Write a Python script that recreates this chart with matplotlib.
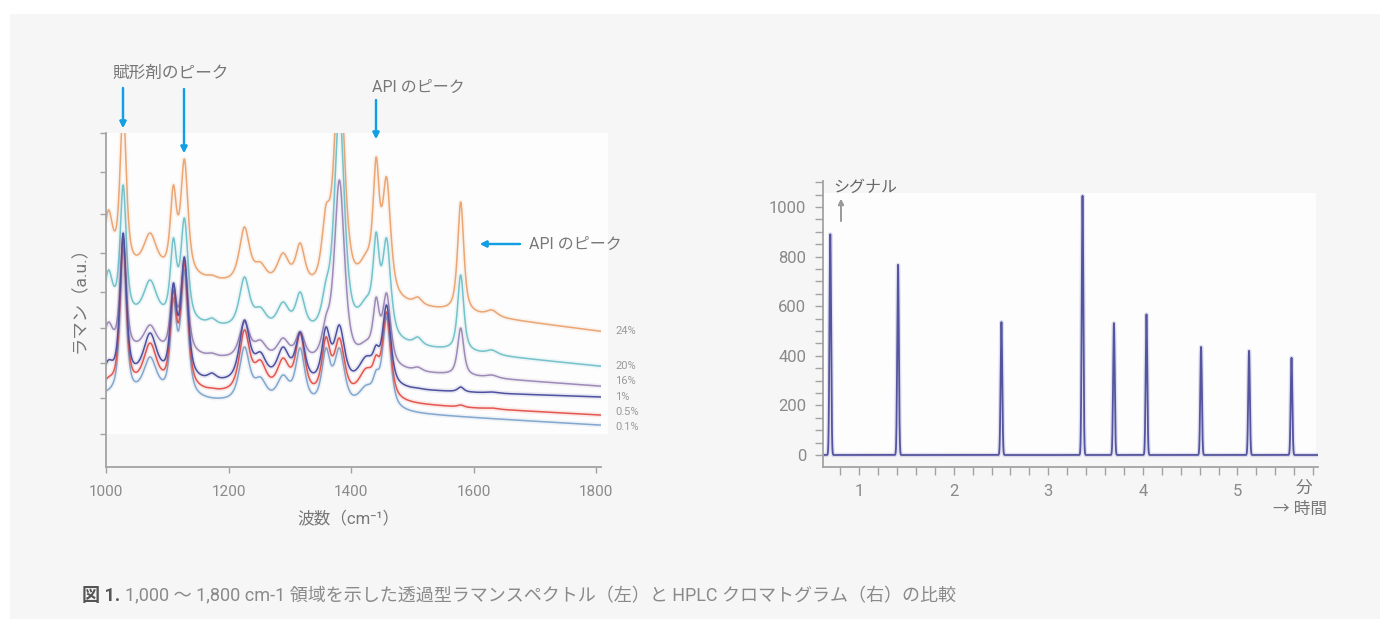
import numpy as np
import matplotlib

matplotlib.use("Agg")
import matplotlib.pyplot as plt
from matplotlib.patches import Rectangle

plt.rcParams["font.family"] = ["Roboto", "Noto Sans CJK JP", "DejaVu Sans"]

W, H = 1390, 633

# --- ラマンスペクトル (左) ---
# バンド位置 (cm-1) と半値半幅
bands = [1004, 1028, 1072, 1110, 1128, 1173, 1226, 1252, 1289, 1317,
         1359, 1381, 1425, 1441, 1458, 1509, 1579, 1630]
band_hwhm = [8, 6, 13, 6, 7, 8, 10, 12, 12, 9, 8, 10, 15, 6, 8, 8, 6, 11]

conc_labels = ["24%", "20%", "16%", "1%", "0.5%", "0.1%"]
# 各バンド位置での信号 (a.u.)
top_24 = [257, 362, 234, 282, 308, 192, 240, 205, 214, 224, 262, 407, 215, 310, 290, 170, 265, 157]
top_20 = [197, 282, 187, 229, 249, 149, 190, 160, 165, 175, 187, 357, 170, 235, 229, 130, 192, 117]
top_16 = [145, 227, 142, 182, 205, 114, 145, 127, 129, 135, 152, 287, 127, 170, 174, 100, 139, 92]
top_1 = [107, 234, 134, 184, 210, 94, 147, 115, 120, 135, 140, 142, 111, 122, 162, 79, 80, 75]
top_05 = [90, 229, 124, 177, 205, 79, 137, 107, 109, 134, 130, 129, 99, 112, 155, 63, 62, 59]
top_01 = [74, 219, 110, 169, 197, 64, 120, 90, 92, 119, 119, 119, 82, 97, 150, 52, 48, 47]
# ベースライン (1000 cm-1, 1800 cm-1)
base_24 = [197, 136]
base_20 = [149, 101]
base_16 = [115, 81]
base_1 = [86, 70]
base_05 = [78, 52]
base_01 = [70, 42]

colors = ["#eba673", "#74c2cb", "#9d8ab8", "#4d51a0", "#e4574f", "#82a8cf"]

# --- HPLC クロマトグラム (右) ---
ret_times = [0.696, 1.412, 2.505, 3.362, 3.694, 4.038, 4.615, 5.122, 5.571]
peak_heights = [890, 767, 536, 1046, 532, 567, 436, 420, 392]


def band_shape(x, c, w, eta=0.7):
    d = ((x - c) / w) ** 2
    return eta / (1 + d) + (1 - eta) * np.exp(-np.log(2) * d)


def spectrum(tops, base, x):
    c = np.array(bands, float)
    w = np.array(band_hwhm, float)

    def b_at(v):
        return base[0] + (base[1] - base[0]) * (v - 1000) / 800

    M = band_shape(c[:, None], c[None, :], w[None, :])
    amp = np.clip(np.linalg.solve(M, np.array(tops, float) - b_at(c)), 0, None)
    return b_at(x) + band_shape(x[:, None], c[None, :], w[None, :]) @ amp


def fig_px(x, y):
    return x / W, 1 - y / H


fig = plt.figure(figsize=(W / 100, H / 100), dpi=100)
fig.patch.set_facecolor("white")
fig.add_artist(Rectangle((10 / W, 1 - 619 / H), 1370 / W, 605 / H,
                         transform=fig.transFigure, facecolor="#f6f6f6",
                         edgecolor="none", zorder=-10))
fig.add_artist(Rectangle((106 / W, 1 - 434 / H), 502 / W, 301 / H,
                         transform=fig.transFigure, facecolor="#fdfdfd",
                         edgecolor="none", zorder=-9))
fig.add_artist(Rectangle((823 / W, 1 - 455 / H), 493 / W, 262 / H,
                         transform=fig.transFigure, facecolor="#fdfdfd",
                         edgecolor="none", zorder=-9))

spine_c = "#a3a3a3"
tick_c = "#8a8a8a"
text_c = "#777777"
blue = "#12a0e4"

# 左: ラマン
ax1 = fig.add_axes([106 / W, (633 - 467) / H, 495 / W, 334 / H])
ax1.set_facecolor("none")
wn = np.linspace(1000, 1808, 2000)
all_tops = [top_24, top_20, top_16, top_1, top_05, top_01]
all_base = [base_24, base_20, base_16, base_1, base_05, base_01]
order = [0, 1, 2, 5, 4, 3]
for i in order:
    y = spectrum(all_tops[i], all_base[i], wn)
    ax1.plot(wn, y, color=colors[i], lw=3.5, alpha=0.12, solid_capstyle="round")
    ax1.plot(wn, y, color=colors[i], lw=1.1)
ax1.set_xlim(1000, 1808)
ax1.set_ylim(0, 334)
ax1.set_xticks([1000, 1200, 1400, 1600, 1800])
ax1.set_yticks([333.7, 295.3, 252.7, 213.7, 174.7, 138.7, 103.7, 68.7, 33])
ax1.set_yticklabels([])
for s in ["top", "right"]:
    ax1.spines[s].set_visible(False)
for s in ["left", "bottom"]:
    ax1.spines[s].set_color(spine_c)
    ax1.spines[s].set_linewidth(1.3)
ax1.tick_params(axis="both", color=spine_c, labelcolor=tick_c, labelsize=11,
                length=4, width=1)
ax1.tick_params(axis="x", pad=9)

label_y = [331, 366, 381, 397, 412, 427]
for lab, ly in zip(conc_labels, label_y):
    fig.text(*fig_px(615, ly), lab, fontsize=8, color="#9a9a9a", va="center")

fig.text(*fig_px(80, 295), "ラマン（a.u.）", rotation=90, fontsize=12.5,
         color=text_c, ha="center", va="center")
fig.text(*fig_px(348, 518), "波数（cm⁻¹）", fontsize=12, color=text_c,
         ha="center", va="center")

# 矢印と注記
fig.text(*fig_px(171, 73), "賦形剤のピーク", fontsize=12, color=text_c,
         ha="center", va="center")
fig.text(*fig_px(418, 87), "API のピーク", fontsize=11.5, color=text_c,
         ha="center", va="center")
fig.text(*fig_px(529, 244), "API のピーク", fontsize=11.5, color=text_c,
         ha="left", va="center")
arrows = [((123, 88), (123, 128)), ((184, 89), (184, 153)),
          ((376, 100), (376, 139)), ((520, 244), (480, 244))]
for (x0, y0), (x1, y1) in arrows:
    fig.add_artist(plt.annotate(
        "", xy=(x1, H - y1), xytext=(x0, H - y0), xycoords="figure pixels",
        textcoords="figure pixels",
        arrowprops=dict(arrowstyle="-|>", color=blue, lw=1.6,
                        mutation_scale=9, shrinkA=0, shrinkB=0)))

# 右: HPLC
ax2 = fig.add_axes([823 / W, (633 - 467) / H, 495 / W, 286 / H])
ax2.set_facecolor("none")
t = np.linspace(0.62, 5.848, 6000)
sig = np.zeros_like(t)
for rt, ph in zip(ret_times, peak_heights):
    sig += ph * np.exp(-0.5 * ((t - rt) / 0.0085) ** 2)
ax2.plot(t, sig, color="#a8a8d8", lw=3.2, alpha=0.35)
ax2.plot(t, sig, color="#55559f", lw=1.3)
ax2.set_xlim(0.619, 5.851)
ax2.set_ylim(-48.4, 1104.8)
ax2.set_xticks([1, 2, 3, 4, 5])
ax2.set_xticks(np.arange(0.8, 5.81, 0.2), minor=True)
ax2.set_yticks([0, 200, 400, 600, 800, 1000])
ax2.set_yticks(np.arange(0, 1101, 50), minor=True)
for s in ["top", "right"]:
    ax2.spines[s].set_visible(False)
for s in ["left", "bottom"]:
    ax2.spines[s].set_color(spine_c)
    ax2.spines[s].set_linewidth(1.3)
ax2.tick_params(axis="both", which="both", color=spine_c, labelcolor=tick_c,
                labelsize=12, length=6, width=1)
ax2.tick_params(axis="x", pad=6)
ax2.tick_params(axis="y", pad=6)

fig.text(*fig_px(865, 187), "シグナル", fontsize=11.5, color="#666666",
         ha="center", va="center")
fig.add_artist(plt.annotate(
    "", xy=(841, H - 199), xytext=(841, H - 221), xycoords="figure pixels",
    textcoords="figure pixels",
    arrowprops=dict(arrowstyle="-|>", color="#999999", lw=1.2,
                    mutation_scale=8, shrinkA=0, shrinkB=0)))
fig.text(*fig_px(1304, 488), "分", fontsize=12, color=text_c,
         ha="center", va="center")
fig.text(*fig_px(1300, 509), "→ 時間", fontsize=12, color=text_c,
         ha="center", va="center")

# キャプション
cap1 = fig.text(*fig_px(82, 596), "図 1.", fontsize=13, color="#555555",
                fontweight="bold", va="center")
fig.canvas.draw()
bb = cap1.get_window_extent()
fig.text((bb.x1 + 5) / W, 1 - 596 / H,
         "1,000 ～ 1,800 cm-1 領域を示した透過型ラマンスペクトル（左）と HPLC クロマトグラム（右）の比較",
         fontsize=13, color="#8a8a8a", va="center")

fig.savefig("out.png", dpi=100)
